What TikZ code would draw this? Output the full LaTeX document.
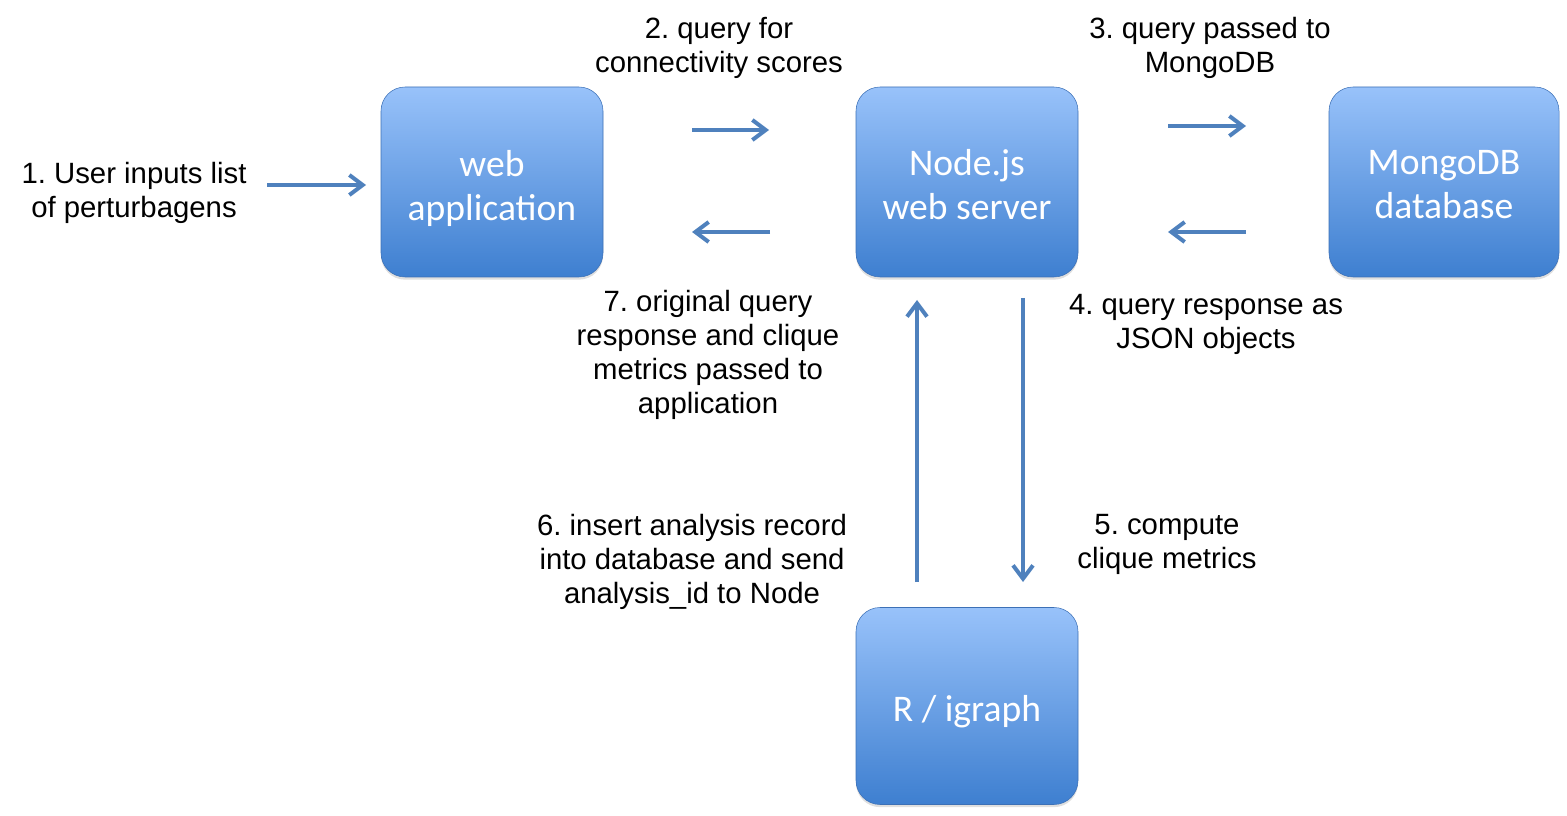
\documentclass[tikz,border=0pt]{standalone}
\usepackage{fontspec}
\setmainfont{Liberation Sans}
\newfontfamily\boxfont{Carlito}
\usetikzlibrary{shadows,arrows.meta}
\definecolor{boxtop}{RGB}{152,194,250}
\definecolor{boxbottom}{RGB}{62,127,208}
\definecolor{boxline}{RGB}{60,112,182}
\definecolor{flowblue}{RGB}{79,129,189}
\frenchspacing
\tikzset{
  block/.style={rectangle, rounded corners=18pt, draw=boxline, thin, top color=boxtop, bottom color=boxbottom, minimum width=166.5pt, minimum height=142.5pt, drop shadow={shadow xshift=0pt, shadow yshift=-2pt, opacity=0.25}},
  boxtext/.style={text=white, align=center, font=\boxfont\fontsize{28.2}{33}\selectfont},
  flow/.style={line width=3pt, flowblue, -{Straight Barb[length=10pt, width=15pt]}},
  lbl/.style={align=center, font=\fontsize{22}{25.5}\selectfont}
}
\begin{document}
\begin{tikzpicture}[x=0.75pt, y=-0.75pt]
\useasboundingbox (0,0) rectangle (1567,816);
\node [block, label={[boxtext, yshift=-4.5pt]center:{web\\application}}] (app) at (492,182) {};
\node [block, label={[boxtext, yshift=-2.25pt]center:{Node.js\\web server}}] (server) at (967,182) {};
\node [block, minimum width=172.5pt, label={[boxtext, yshift=-2.25pt]center:{MongoDB\\database}}] (mongo) at (1444,182) {};
\node [block, minimum height=147.75pt, label={[boxtext, yshift=-4.5pt]center:{R / igraph}}] (rgraph) at (967,706) {};
\coordinate (in1) at (267,185);
\coordinate (in2) at (366,185);
\coordinate (q1) at (692,130);
\coordinate (q2) at (769,130);
\coordinate (r1) at (770,232);
\coordinate (r2) at (692,232);
\coordinate (m1) at (1168,126);
\coordinate (m2) at (1246,126);
\coordinate (j1) at (1246,232);
\coordinate (j2) at (1168,232);
\coordinate (up1) at (917,582);
\coordinate (up2) at (917,300);
\coordinate (dn1) at (1023,298);
\coordinate (dn2) at (1023,582);
\draw [flow] (in1) -- (in2);
\draw [flow] (q1) -- (q2);
\draw [flow] (r1) -- (r2);
\draw [flow] (m1) -- (m2);
\draw [flow] (j1) -- (j2);
\draw [flow] (up1) -- (up2);
\draw [flow] (dn1) -- (dn2);
\node [lbl] (l1) at (134,193) {1. User inputs list\\of perturbagens};
\node [lbl] (l2) at (719,48) {2. query for\\connectivity scores};
\node [lbl] (l3) at (1210,48) {3. query passed to\\MongoDB};
\node [lbl] (l4) at (1206,324) {4. query response as\\JSON objects};
\node [lbl] (l5) at (1167,544) {5. compute\\clique metrics};
\node [lbl] (l6) at (692,562) {6. insert analysis record\\into database and send\\analysis\_id to Node};
\node [lbl] (l7) at (708,355) {7. original query\\response and clique\\metrics passed to\\application};
\end{tikzpicture}
\end{document}
